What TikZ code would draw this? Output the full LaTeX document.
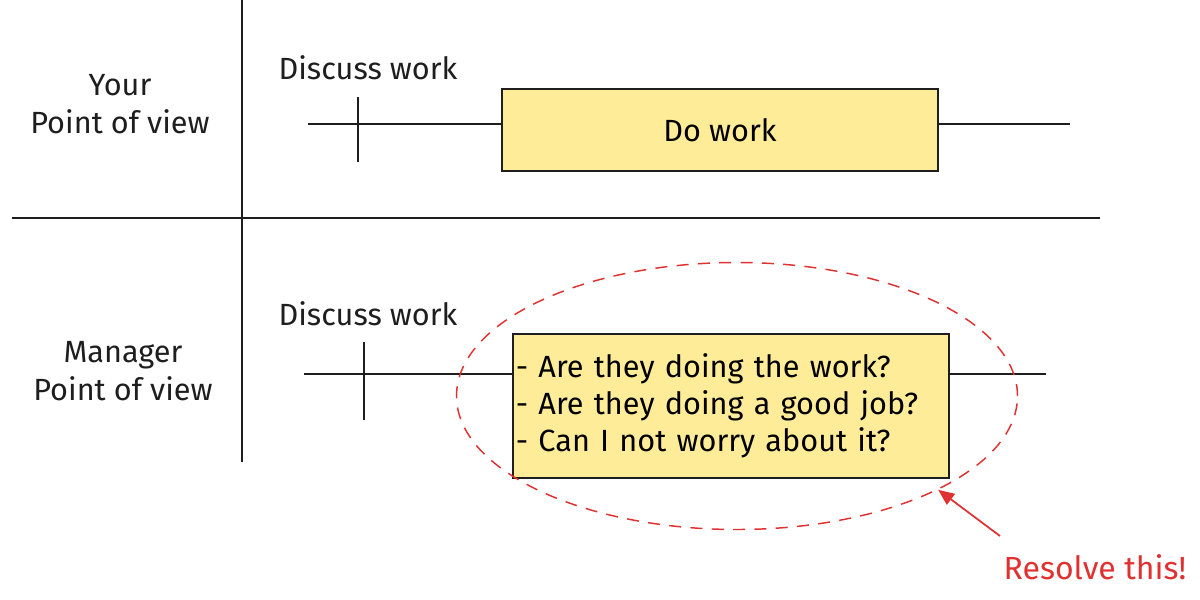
\documentclass[tikz,border=0pt]{standalone}
\usepackage{fontspec}
\setmainfont{Fira Sans}
\usepackage{xcolor}
\usetikzlibrary{shapes.geometric, positioning, arrows.meta}
\definecolor{NoteYellow}{HTML}{FFEC99}
\definecolor{MarkRed}{HTML}{E03131}
\definecolor{InkBlack}{HTML}{1E1E1E}

\begin{document}
\begin{tikzpicture}[x=0.75pt, y=-0.75pt,
          task/.style={rectangle, draw=InkBlack, fill=NoteYellow, line width=1.3pt,
                       font=\fontsize{23}{28}\selectfont, inner sep=2pt},
          lbl/.style={font=\fontsize{23}{28.5}\selectfont, text=InkBlack, align=center},
          rule/.style={draw=InkBlack, line width=1.1pt},
          arr/.style={-{Triangle[length=12pt, width=10pt]}, line width=1.3pt, MarkRed}
        ]
        \useasboundingbox (0,0) rectangle (1200,600);

        % Quadrant rules
        \coordinate (vtop) at (242,0);
        \coordinate (vbot) at (242,462);
        \coordinate (hl) at (12,218);
        \coordinate (hr) at (1100,218);
        \draw[rule] (vtop) -- (vbot);
        \draw[rule] (hl) -- (hr);

        % Row labels
        \node[lbl] (you) at (120,104) {Your\\Point of view};
        \node[lbl] (mgr) at (123,371) {Manager\\Point of view};

        % Top timeline
        \node[lbl] (disc1) at (368,68) {Discuss work};
        \node[task, minimum width=436*0.75pt, minimum height=82*0.75pt] (dowork) at (720,130) {Do work};
        \coordinate (t1s) at (308,124);
        \coordinate (t1e) at (1070,124);
        \coordinate (k1a) at (358,97);
        \coordinate (k1b) at (358,162);
        \draw[rule] (t1s) -- (dowork.west |- t1s);
        \draw[rule] (dowork.east |- t1e) -- (t1e);
        \draw[rule] (k1a) -- (k1b);

        % Bottom timeline
        \node[lbl] (disc2) at (368,314) {Discuss work};
        \node[task, minimum width=436*0.75pt, minimum height=144*0.75pt,
              align=left, text width=430*0.75pt, anchor=north west] (worry) at (512,333)
              {- Are they doing the work?\\- Are they doing a good job?\\- Can I not worry about it?};
        \coordinate (t2s) at (304,374);
        \coordinate (t2e) at (1046,374);
        \coordinate (k2a) at (364,342);
        \coordinate (k2b) at (364,420);
        \draw[rule] (t2s) -- (worry.west |- t2s);
        \draw[rule] (worry.east |- t2e) -- (t2e);
        \draw[rule] (k2a) -- (k2b);

        % Focus ring and callout
        \node[ellipse, draw=MarkRed, dashed, dash pattern=on 9pt off 7pt, line width=1.1pt,
              minimum width=561*0.75pt, minimum height=267*0.75pt] (focus) at (737,396) {};
        \node[font=\fontsize{24}{28}\selectfont, text=MarkRed] (resolve) at (1095,567) {Resolve this!};
        \coordinate (tail) at (1000,536);
        \draw[arr] (tail) -- (focus.-25);
      \end{tikzpicture}
\end{document}
